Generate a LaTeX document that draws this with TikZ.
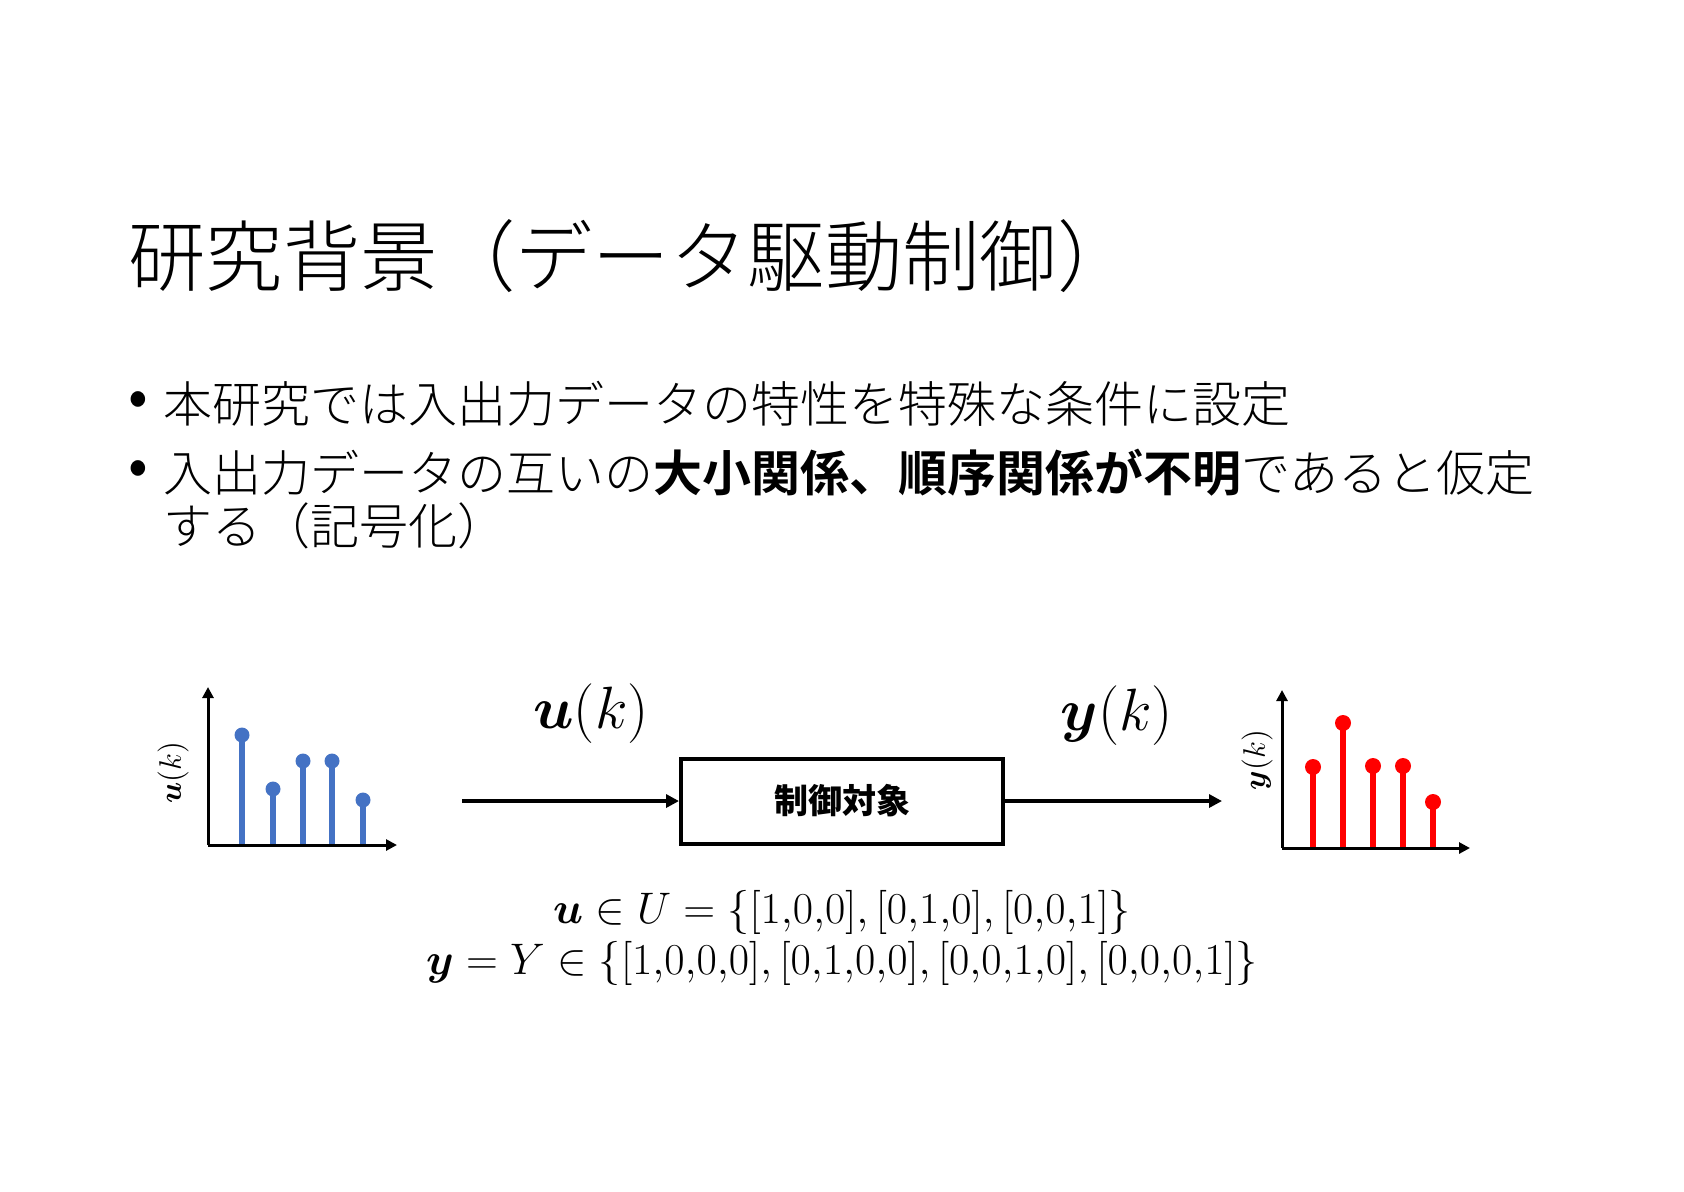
\documentclass[tikz,border=0pt]{standalone}
\usepackage{graphicx}
\usepackage{fontspec}
\usepackage{amsmath,bm}
\usetikzlibrary{arrows.meta}
\newfontfamily\jp[UprightFont={* Light},BoldFont={* Bold}]{Noto Sans CJK JP}
\newfontfamily\jpb{Noto Sans CJK JP}
\definecolor{ublue}{HTML}{4472C4}
\definecolor{yred}{HTML}{FF0000}
\begin{document}
\begin{tikzpicture}[x=0.5pt,y=-0.5pt,
  txt/.style={inner sep=0pt, anchor=west, font=\jp},
  titlefont/.style={font=\jp\fontsize{38.7pt}{42pt}\selectfont},
  bodyfont/.style={font=\jp\fontsize{24.5pt}{28pt}\selectfont},
  bulletfont/.style={inner sep=0pt, font=\jpb\fontsize{29pt}{32pt}\selectfont},
  axisline/.style={line width=1.5pt, -{Triangle[length=5.5pt,width=5.5pt]}},
  stemb/.style={line width=2.6pt, ublue},
  dotb/.style={circle, fill=ublue, inner sep=0pt, minimum size=7.5pt},
  stemr/.style={line width=2.8pt, yred},
  dotr/.style={circle, fill=yred, inner sep=0pt, minimum size=8pt},
  flow/.style={line width=2pt, -{Triangle[length=6.5pt,width=6.5pt]}},
  plant/.style={draw, line width=2pt, minimum width=161pt, minimum height=42.5pt, inner sep=0pt, font=\jpb\bfseries\fontsize{17pt}{20pt}\selectfont},
  sidelabel/.style={inner sep=0pt, rotate=90, font=\fontsize{14.4pt}{18pt}\selectfont},
  siglabel/.style={inner sep=0pt, font=\fontsize{24.88pt}{30pt}\selectfont},
  eqlabel/.style={inner sep=0pt, font=\fontsize{20.74pt}{25pt}\selectfont}
]
\fill[white] (0,0) rectangle (1684,1191);
\useasboundingbox (0,0) rectangle (1684,1191);

% title
\node[txt, titlefont] (title) at (128,256) {研究背景（データ駆動制御）};

% bullets
\node[bulletfont] (b1) at (138,404) {•};
\node[txt, bodyfont] (l1) at (163,404) {本研究では入出力データの特性を特殊な条件に設定};
\node[bulletfont] (b2) at (138,473) {•};
\node[txt, bodyfont] (l2) at (163,473) {入出力データの互いの\textbf{大小関係、順序関係が不明}であると仮定};
\node[txt, bodyfont] (l3) at (163,526) {する（記号化）};

% left chart
\coordinate (lo) at (208,845);
\coordinate (ltop) at (208,687);
\coordinate (lright) at (397,845);
\foreach \i/\x/\y in {1/242/735,2/273/789,3/303/761,4/332/761,5/363/800}{
  \coordinate (lb\i) at (\x,845);
  \node[dotb] (ld\i) at (\x,\y) {};
  \draw[stemb] (lb\i) -- (ld\i.center);
}
\draw[axisline] (lo) -- (ltop);
\draw[axisline] (lo) -- (lright);
\node[sidelabel] (ulab) at (173,773) {\scalebox{1.08}{$\bm{u}(k)$}};

% right chart
\coordinate (ro) at (1282,848);
\coordinate (rtop) at (1282,690);
\coordinate (rright) at (1470,848);
\foreach \i/\x/\y in {1/1313/767,2/1343/723,3/1373/766,4/1403/766,5/1433/802}{
  \coordinate (rb\i) at (\x,848);
  \node[dotr] (rd\i) at (\x,\y) {};
  \draw[stemr] (rb\i) -- (rd\i.center);
}
\draw[axisline] (ro) -- (rtop);
\draw[axisline] (ro) -- (rright);
\node[sidelabel] (ylab) at (1257,760) {\scalebox{1.08}{$\bm{y}(k)$}};

% block diagram
\node[plant] (sys) at (842,801) {制御対象};
\coordinate (in) at (462,801);
\coordinate (out) at (1222,801);
\draw[flow] (in) -- (sys.west);
\draw[flow] (sys.east) -- (out);
\node[siglabel] (usig) at (591,714) {\scalebox{1.2}{$\bm{u}(k)$}};
\node[siglabel] (ysig) at (1117,716) {\scalebox{1.2}{$\bm{y}(k)$}};

% equations
\node[eqlabel] (eq1) at (842,912) {\scalebox{1.065}{$\bm{u}\in U=\{[1{,}0{,}0],[0{,}1{,}0],[0{,}0{,}1]\}$}};
\node[eqlabel] (eq2) at (842,963) {\scalebox{1.065}{$\bm{y}=Y\in\{[1{,}0{,}0{,}0],[0{,}1{,}0{,}0],[0{,}0{,}1{,}0],[0{,}0{,}0{,}1]\}$}};
\end{tikzpicture}
\end{document}
